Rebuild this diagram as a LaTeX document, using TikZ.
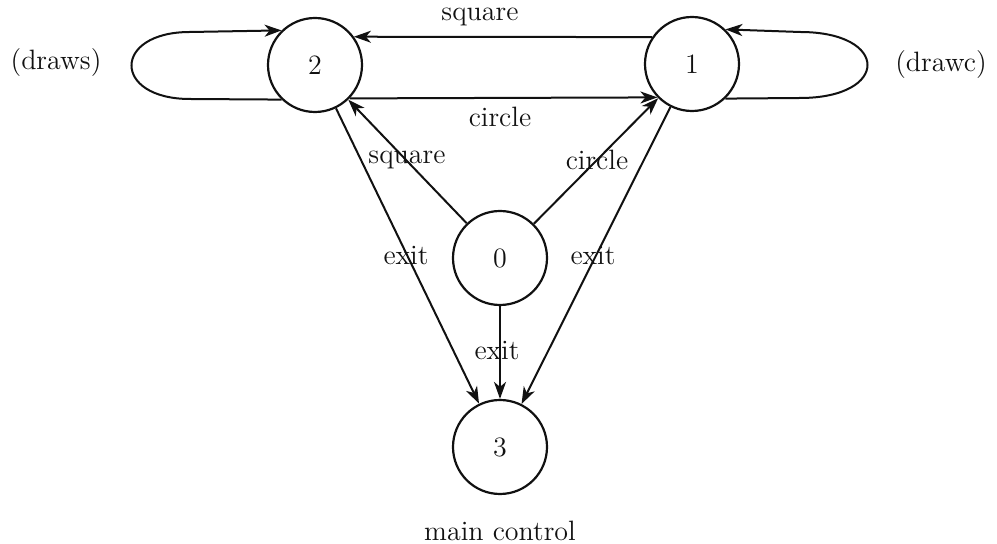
\documentclass[tikz,border=0pt]{standalone}
\usepackage{tikz}
\usepackage{xcolor}
\usetikzlibrary{
  positioning, arrows.meta, calc,
}
\definecolor{cInk}{HTML}{111111}

\begin{document}
\begin{tikzpicture}[x=0.5pt, y=-0.5pt,
    state/.style={circle, draw=cInk, line width=1.1pt, minimum size=47pt,
                  inner sep=0pt, font=\fontsize{14}{16}\selectfont, text=cInk},
    lbl/.style={font=\fontsize{14}{16}\selectfont, text=cInk, inner sep=1pt},
    arr/.style={draw=cInk, line width=1pt, -{Stealth[length=8.5pt, width=6pt, inset=2.5pt]}}]
        \useasboundingbox (0,0) rectangle (997,544);
        \foreach \x/\y/\name/\num in
          {315/65/n2/2, 692/64/n1/1, 500/258/n0/0, 500/447/n3/3}{
          \node[state] (\name) at (\x, \y) {\num};
        }
        % self loops
        \draw[arr] (n2.226) -- (190,99) .. controls (112,99) and (112,32) .. (190,32) -- (n2.134);
        \draw[arr] (n1.-46) -- (800,98) .. controls (890,98) and (890,32) .. (800,32) -- (n1.46);
        % between the drawing states
        \draw[arr] (n1.146) -- (n2.36);
        \draw[arr] (n2.-44) -- (n1.-136);
        \draw[arr] (n0) -- (n2);
        \draw[arr] (n0) -- (n1);
        % exits
        \foreach \src in {n2, n0, n1}{
          \draw[arr] (\src) -- (n3);
        }
        \node[lbl] (lSqTop) at (480, 17) {square};
        \node[lbl] (lCiMid) at (500, 117) {circle};
        \node[lbl] (lSqLow) at (407, 160) {square};
        \node[lbl] (lCiLow) at (597, 160) {circle};
        \node[lbl] (lExL) at (406, 256) {exit};
        \node[lbl] (lExR) at (593, 256) {exit};
        \node[lbl] (lExM) at (497, 351) {exit};
        \node[lbl] (lDraws) at (56, 63) {(draws)};
        \node[lbl] (lDrawc) at (941, 65) {(drawc)};
        \node[lbl] (lMain) at (500, 531) {main control};
      \end{tikzpicture}
\end{document}
